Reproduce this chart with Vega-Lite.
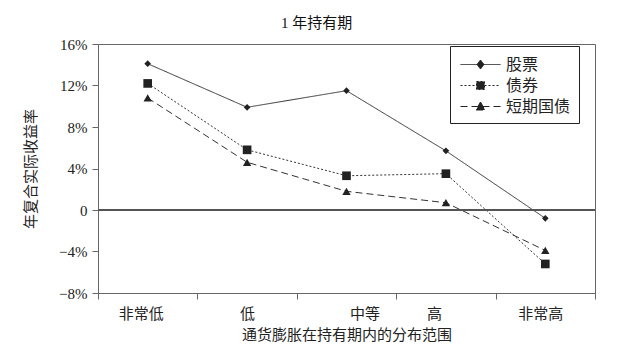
{
  "$schema": "https://vega.github.io/schema/vega-lite/v6.json",
  "width": 497,
  "height": 249,
  "autosize": {"type": "none"},
  "padding": {"left": 98, "top": 44, "right": 23, "bottom": 63},
  "background": "white",
  "title": {"text": "1 年持有期", "fontSize": 15, "fontWeight": "normal", "font": "Liberation Serif, Noto Sans CJK SC", "color": "#111", "anchor": "middle", "offset": 6, "dx": -30},
  "config": {
    "view": {"stroke": "#666", "strokeWidth": 1},
    "font": "Liberation Serif, Noto Sans CJK SC",
    "axis": {"labelFont": "Liberation Serif, Noto Sans CJK SC", "titleFont": "Liberation Serif, Noto Sans CJK SC", "labelColor": "#222", "titleColor": "#222", "domainColor": "#666", "tickColor": "#666", "grid": false, "titleFontWeight": "normal", "labelFontSize": 15, "titleFontSize": 15}
  },
  "datasets": {"rows": [
    {"category": "非常低", "series": "股票", "value": 0.141},
    {"category": "低", "series": "股票", "value": 0.099},
    {"category": "中等", "series": "股票", "value": 0.115},
    {"category": "高", "series": "股票", "value": 0.057},
    {"category": "非常高", "series": "股票", "value": -0.008},
    {"category": "非常低", "series": "债券", "value": 0.122},
    {"category": "低", "series": "债券", "value": 0.058},
    {"category": "中等", "series": "债券", "value": 0.033},
    {"category": "高", "series": "债券", "value": 0.035},
    {"category": "非常高", "series": "债券", "value": -0.052},
    {"category": "非常低", "series": "短期国债", "value": 0.108},
    {"category": "低", "series": "短期国债", "value": 0.046},
    {"category": "中等", "series": "短期国债", "value": 0.018},
    {"category": "高", "series": "短期国债", "value": 0.007},
    {"category": "非常高", "series": "短期国债", "value": -0.039}
  ]},
  "data": {"name": "rows"},
  "layer": [
    {
      "mark": {"type": "line", "color": "#333", "strokeWidth": 1},
      "encoding": {
        "x": {"field": "category", "type": "nominal", "sort": ["非常低", "低", "中等", "高", "非常高"],
              "scale": {"type": "band", "paddingInner": 0, "paddingOuter": 0},
              "axis": {"title": "通货膨胀在持有期内的分布范围", "labelAngle": 0, "tickBand": "extent", "tickSize": 6, "labelPadding": 7, "titlePadding": 6,
                       "labelOffset": {"expr": "datum.value === '中等' ? 18 : datum.value === '高' ? -12 : datum.value === '非常低' ? -7 : datum.value === '非常高' ? -5 : 0"}}},
        "y": {"field": "value", "type": "quantitative",
              "scale": {"domain": [-0.08, 0.16], "nice": false, "zero": false},
              "axis": {"title": "年复合实际收益率", "values": [-0.08, -0.04, 0, 0.04, 0.08, 0.12, 0.16], "labelExpr": "datum.value == 0 ? '0' : format(datum.value, '.0%')", "tickSize": 6, "labelPadding": 5, "titlePadding": 20}},
        "strokeDash": {"field": "series", "type": "nominal",
                       "scale": {"domain": ["股票", "债券", "短期国债"], "range": [[1, 0], [2, 2], [7, 4]]},
                       "legend": {"title": null, "orient": "none", "legendX": 352, "legendY": 2,
                                  "strokeColor": "#222", "fillColor": "white", "padding": 8,
                                  "labelFontSize": 16, "labelFont": "Liberation Serif, Noto Sans CJK SC", "labelColor": "#222",
                                  "symbolSize": 400, "symbolStrokeColor": "#222", "symbolFillColor": "#222", "symbolStrokeWidth": 1, "rowPadding": 2, "labelOffset": 15, "symbolOffset": 12,
                                  "encode": {"symbols": {"update": {
                                    "shape": {"signal": "datum.value === '股票' ? 'M-2,0H2M0,-0.45L0.35,0L0,0.45L-0.35,0Z' : datum.value === '债券' ? 'M-2,0H2M-0.4,-0.4H0.4V0.4H-0.4Z' : 'M-2,0H2M0,-0.45L0.45,0.35H-0.45Z'"},
                                    "fill": {"value": "#222"},
                                    "stroke": {"value": "#222"},
                                    "strokeWidth": {"value": 1},
                                    "strokeOpacity": {"value": 1},
                                    "opacity": {"value": 1}}}}}}
      }
    },
    {
      "mark": {"type": "rule", "color": "#555", "strokeWidth": 1},
      "encoding": {"y": {"datum": 0, "type": "quantitative"}}
    },
    {
      "transform": [{"filter": "datum.series === '股票'"}],
      "mark": {"type": "point", "filled": true, "color": "#222", "opacity": 1, "shape": "diamond", "size": 45},
      "encoding": {"x": {"field": "category", "type": "nominal", "sort": ["非常低", "低", "中等", "高", "非常高"]}, "y": {"field": "value", "type": "quantitative"}}
    },
    {
      "transform": [{"filter": "datum.series === '债券'"}],
      "mark": {"type": "point", "filled": true, "color": "#222", "opacity": 1, "shape": "square", "size": 75},
      "encoding": {"x": {"field": "category", "type": "nominal", "sort": ["非常低", "低", "中等", "高", "非常高"]}, "y": {"field": "value", "type": "quantitative"}}
    },
    {
      "transform": [{"filter": "datum.series === '短期国债'"}],
      "mark": {"type": "point", "filled": true, "color": "#222", "opacity": 1, "shape": "triangle-up", "size": 70},
      "encoding": {"x": {"field": "category", "type": "nominal", "sort": ["非常低", "低", "中等", "高", "非常高"]}, "y": {"field": "value", "type": "quantitative"}}
    }
  ]
}
